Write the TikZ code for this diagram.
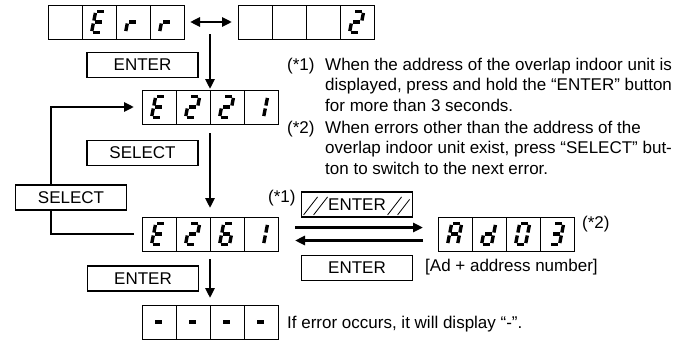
\documentclass[tikz,border=0pt]{standalone}
\usepackage{fontspec}
\setmainfont{Liberation Sans}
\usetikzlibrary{arrows.meta,positioning,calc}

\expandafter\def\csname chN\endcsname{n}
\expandafter\def\csname chE\endcsname{a,d,e,f,g}
\expandafter\def\csname chr\endcsname{e,g}
\expandafter\def\csname ch0\endcsname{a,b,c,d,e,f}
\expandafter\def\csname ch1\endcsname{b,c}
\expandafter\def\csname ch2\endcsname{a,b,g,e,d}
\expandafter\def\csname ch3\endcsname{a,b,c,d,g}
\expandafter\def\csname ch6\endcsname{a,c,d,e,f,g}
\expandafter\def\csname chA\endcsname{a,b,c,e,f,g}
\expandafter\def\csname chd\endcsname{b,c,d,e,g}
\expandafter\def\csname ch-\endcsname{g}

\newcommand{\segdisp}[3]{%
  \node[disp,#2] (#1) {};
  \foreach \k in {1,2,3}
    \draw[cell] ($(#1.north west)+(34*\k,0)$) -- ($(#1.south west)+(34*\k,0)$);
  \foreach \c [count=\i from 0] in {#3}{%
    \edef\segs{\csname ch\c\endcsname}%
    \foreach \s in \segs
      \draw[segline, shift={($(#1.south west)+(34*\i+9.5,-6.5)$)}, xslant=0.2, seg \s];
  }%
}

\begin{document}
\begin{tikzpicture}[x=1pt, y=-1pt, >={Triangle[length=10pt,width=9pt]},
  txt/.style={font=\fontsize{17}{20.8}\selectfont, inner sep=0pt},
  btn/.style={draw, line width=1.8pt, fill=white, minimum width=111pt, minimum height=25pt, inner sep=0pt, font=\fontsize{17}{20.8}\selectfont},
  disp/.style={draw, line width=0.9pt, minimum width=136pt, minimum height=34pt, inner sep=0pt, outer sep=0pt},
  cell/.style={line width=0.9pt},
  segline/.style={line width=3.4pt, shorten <=1.5pt, shorten >=1.5pt},
  arr/.style={line width=2.6pt},
  hatch/.style={line width=0.8pt},
  seg a/.style={insert path={(0,-21)--(10,-21)}},
  seg b/.style={insert path={(10,-21)--(10,-10.5)}},
  seg c/.style={insert path={(10,-10.5)--(10,0)}},
  seg d/.style={insert path={(0,0)--(10,0)}},
  seg e/.style={insert path={(0,0)--(0,-10.5)}},
  seg f/.style={insert path={(0,-10.5)--(0,-21)}},
  seg g/.style={insert path={(0,-10.5)--(10,-10.5)}},
  seg n/.style={}]
\useasboundingbox (0,0) rectangle (682,340);

\segdisp{err}{anchor=north west, at={(48,5)}}{N,E,r,r}
\segdisp{blk}{right=54pt of err}{N,N,N,2}
\segdisp{e221}{anchor=north west, at={(142,90)}}{E,2,2,1}
\segdisp{e261}{below=93pt of e221}{E,2,6,1}
\segdisp{dash}{below=54pt of e261}{-,-,-,-}
\segdisp{ad}{right=160pt of e261}{A,d,0,3}

\draw[arr,<->] ([xshift=6pt]err.east) -- ([xshift=-6pt]blk.west);
\coordinate (fork) at ($(e221.north)+(0,-56)$);
\draw[arr,->,shorten >=1pt] (fork) -- (e221.north);
\draw[arr,->,shorten <=9pt,shorten >=9pt] (e221) -- (e261);
\draw[arr,->,shorten <=8pt,shorten >=7pt] (e261) -- (dash);
\draw[arr,->] ([xshift=-8pt]e261.west) -- ++(-83,0) |- ([xshift=-8pt]e221.west);
\draw[arr,->] ([shift={(17,-6.5)}]e261.east) -- ([shift={(-15,-6.5)}]ad.west);
\draw[arr,->] ([shift={(-15,6.5)}]ad.west) -- ([shift={(17,6.5)}]e261.east);

\node[btn] (enter1) at (142.5,65) {ENTER};
\node[btn] (select1) at (142.5,153) {SELECT};
\node[btn] (select2) at (71,197.5) {SELECT};
\node[btn] (enter2) at (143,278.5) {ENTER};
\node[btn] (enterh) at (357,204.5) {ENTER};
\node[btn] (enter3) at (357,268) {ENTER};
\draw[hatch] ($(enterh.south west)+(3,-3)$) -- ++(14,-18);
\draw[hatch] ($(enterh.south west)+(13,-3)$) -- ++(14,-18);
\draw[hatch] ($(enterh.south west)+(87,-3)$) -- ++(14,-18);
\draw[hatch] ($(enterh.south west)+(97,-3)$) -- ++(12,-15.5);

\node[txt, anchor=base west] (tag1) at (287,70) {(*1)};
\node[txt, anchor=base west, align=left] (note1) at (325,111.6) {When the address of the overlap indoor unit is\\displayed, press and hold the “ENTER” button\\for more than 3 seconds.};
\node[txt, anchor=base west] (tag2) at (287,133) {(*2)};
\node[txt, anchor=base west, align=left] (note2) at (325,174.6) {When errors other than the address of the\\overlap indoor unit exist, press “SELECT” but-\\ton to switch to the next error.};
\node[txt, anchor=base west] (tagh) at (268,202) {(*1)};
\node[txt, anchor=base west] (tagad) at (582,228) {(*2)};
\node[txt, anchor=base west] (adnote) at (425,271) {[Ad + address number]};
\node[txt, anchor=base west] (dashnote) at (287,328) {If error occurs, it will display “-”.};
\end{tikzpicture}
\end{document}
